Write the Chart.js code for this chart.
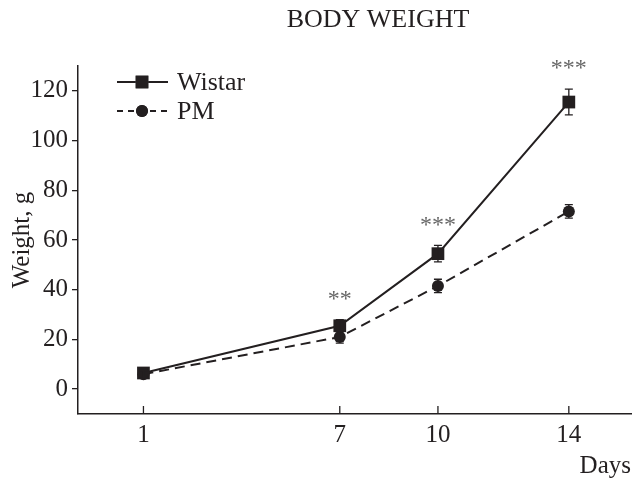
<!DOCTYPE html>
<html>
<head>
<meta charset="utf-8">
<script src="https://cdn.jsdelivr.net/npm/chart.js@4.4.1/dist/chart.umd.min.js"></script>
<style>
html, body { margin: 0; padding: 0; background: #fff; overflow: hidden; }
canvas { display: block; }
</style>
</head>
<body>
<canvas id="weightChart" width="640" height="481"></canvas>
<script>
//Values

const days = [1, 7, 10, 14];
const xTickValues = [1, 7, 10, 14];
const yTickValues = [0, 20, 40, 60, 80, 100, 120];

const wistarMean = [6.5, 25.5, 54.5, 115.5];
const wistarErr = [1.5, 2.5, 3.3, 5.2];

const pmMean = [6, 21, 41.5, 71.5];
const pmErr = [1.5, 2.5, 2.7, 2.7];

const stars = ["", "**", "***", "***"];

const ink = "#231f20";
const serif = "'Liberation Serif', 'Times New Roman', serif";

function toPoints(xs, ys){
    return xs.map(function(x, i){ return { x: x, y: ys[i] }; });
}

//Extra drawing: error bars, asterisks, inner x ticks, legend and title

const extras = {
    id: "extras",
    afterDatasetsDraw(chart){
        const ctx = chart.ctx;
        const xs = chart.scales.x;
        const ys = chart.scales.y;
        const errs = [wistarErr, pmErr];

        ctx.save();
        ctx.strokeStyle = ink;
        ctx.lineWidth = 1.3;

        chart.data.datasets.forEach(function(ds, d){
            ds.data.forEach(function(p, i){
                const px = xs.getPixelForValue(p.x);
                const top = ys.getPixelForValue(p.y + errs[d][i]);
                const bot = ys.getPixelForValue(p.y - errs[d][i]);
                ctx.beginPath();
                ctx.moveTo(px, top); ctx.lineTo(px, bot);
                ctx.moveTo(px - 4, top); ctx.lineTo(px + 4, top);
                ctx.moveTo(px - 4, bot); ctx.lineTo(px + 4, bot);
                ctx.stroke();
            });
        });

        //asterisks above the Wistar error bars
        ctx.fillStyle = "#666";
        ctx.font = "24px " + serif;
        ctx.textAlign = "center";
        ctx.textBaseline = "middle";
        stars.forEach(function(s, i){
            if(!s) return;
            const px = xs.getPixelForValue(days[i]);
            const py = ys.getPixelForValue(wistarMean[i] + wistarErr[i]) - 20;
            ctx.fillText(s, px, py);
        });

        //x ticks pointing inward
        ctx.strokeStyle = ink;
        ctx.lineWidth = 1.3;
        xTickValues.forEach(function(v){
            const px = xs.getPixelForValue(v);
            ctx.beginPath();
            ctx.moveTo(px, xs.top);
            ctx.lineTo(px, xs.top - 8);
            ctx.stroke();
        });

        //legend
        ctx.font = "26px " + serif;
        ctx.textAlign = "left";
        chart.data.datasets.forEach(function(ds, d){
            const ly = 82 + d * 29;
            ctx.strokeStyle = ink;
            ctx.lineWidth = 2;
            ctx.setLineDash(ds.borderDash ? [6, 5] : []);
            ctx.beginPath();
            ctx.moveTo(117, ly);
            ctx.lineTo(168, ly);
            ctx.stroke();
            ctx.setLineDash([]);
            Chart.helpers.drawPoint(ctx, {
                pointStyle: ds.pointStyle,
                radius: ds.pointRadius,
                borderWidth: 0
            }, 142, ly);
            ctx.fillStyle = ink;
            ctx.fill();
            ctx.fillText(ds.label, 177, ly + 1);
        });

        //title
        ctx.font = "26px " + serif;
        ctx.textAlign = "center";
        ctx.fillText("BODY WEIGHT", 378, 20);

        ctx.restore();
    }
};

const chartCanvas = document.querySelector("#weightChart");

new Chart(chartCanvas, {

    type: "line",

    data: {
        datasets: [
            {
                label: "Wistar",
                data: toPoints(days, wistarMean),
                borderColor: ink,
                backgroundColor: ink,
                borderWidth: 2,
                pointStyle: "rect",
                pointRadius: 9,
                pointBackgroundColor: ink,
                pointBorderWidth: 0
            },
            {
                label: "PM",
                data: toPoints(days, pmMean),
                borderColor: ink,
                backgroundColor: ink,
                borderWidth: 2,
                borderDash: [10, 6],
                pointStyle: "circle",
                pointRadius: 6,
                pointBackgroundColor: ink,
                pointBorderWidth: 0
            }
        ]
    },

    options: {
        responsive: false,
        animation: false,
        devicePixelRatio: 1,
        layout: {
            padding: { top: 66, right: 1, left: 0, bottom: 0 }
        },
        plugins: {
            legend: { display: false },
            title: { display: false },
            tooltip: { enabled: false }
        },
        scales: {
            x: {
                type: "linear",
                min: -1,
                max: 15.9,
                afterBuildTicks: function(scale){
                    scale.ticks = xTickValues.map(function(v){ return { value: v }; });
                },
                afterFit: function(scale){ scale.height = 67; },
                grid: { display: false, drawTicks: false },
                border: { display: true, color: ink, width: 1.5 },
                ticks: {
                    color: ink,
                    padding: 6,
                    font: { family: serif, size: 25 }
                },
                title: {
                    display: true,
                    text: "Days",
                    align: "end",
                    color: ink,
                    padding: { top: 0, bottom: 0 },
                    font: { family: serif, size: 25 }
                }
            },
            y: {
                min: -10,
                max: 130,
                afterBuildTicks: function(scale){
                    scale.ticks = yTickValues.map(function(v){ return { value: v }; });
                },
                afterFit: function(scale){ scale.width = 78; },
                grid: {
                    drawOnChartArea: false,
                    drawTicks: true,
                    tickLength: 6,
                    color: ink,
                    lineWidth: 1.3
                },
                border: { display: true, color: ink, width: 1.5 },
                ticks: {
                    color: ink,
                    padding: 4,
                    font: { family: serif, size: 25 }
                },
                title: {
                    display: true,
                    text: "Weight, g",
                    color: ink,
                    padding: { top: 7, bottom: 0 },
                    font: { family: serif, size: 25 }
                }
            }
        }
    },

    plugins: [extras]

});
</script>
</body>
</html>
